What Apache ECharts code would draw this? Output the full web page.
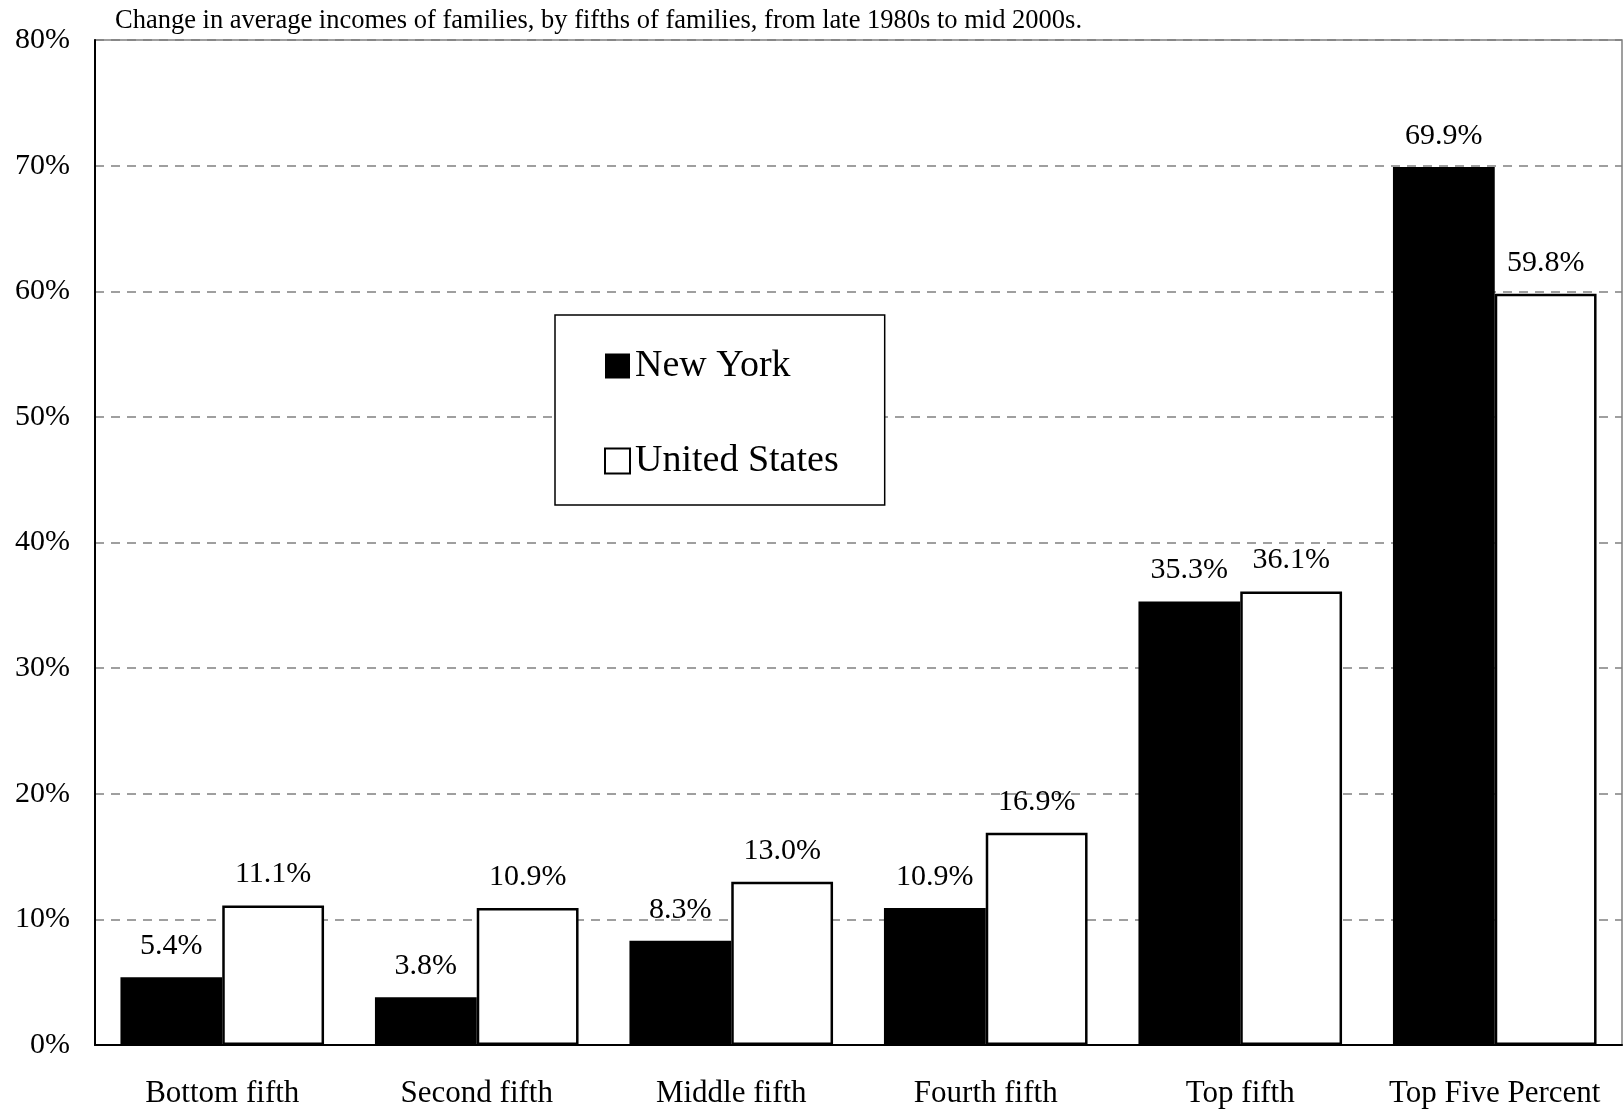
<!DOCTYPE html>
<html>
<head>
<meta charset="utf-8">
<script src="https://cdn.jsdelivr.net/npm/echarts@6/dist/echarts.min.js"></script>
<style>
html,body{margin:0;padding:0;background:#fff;}
#chart{width:1623px;height:1111px;}
</style>
</head>
<body>
<div id="chart"></div>
<script>
const categories = ['Bottom fifth', 'Second fifth', 'Middle fifth', 'Fourth fifth', 'Top fifth', 'Top Five Percent'];
const newYork = [5.4, 3.8, 8.3, 10.9, 35.3, 69.9];
const unitedStates = [11.1, 10.9, 13.0, 16.9, 36.1, 59.8];
const seriesNames = ['New York', 'United States'];
const titleText = 'Change in average incomes of families, by fifths of families, from late 1980s to mid 2000s.';

const FONT = 'Liberation Serif';
const chart = echarts.init(document.getElementById('chart'));
const labelCfg = {
  show: true,
  position: 'top',
  distance: 16,
  formatter: p => p.value.toFixed(1) + '%',
  fontFamily: FONT,
  fontSize: 30,
  color: '#000'
};
chart.setOption({
  animation: false,
  backgroundColor: '#fff',
  title: {
    text: titleText,
    left: 110,
    top: 3,
    textStyle: {fontFamily: FONT, fontSize: 26.5, fontWeight: 'normal', color: '#000'}
  },
  legend: {
    orient: 'vertical',
    left: 555,
    top: 315,
    padding: [31, 46, 24, 49],
    backgroundColor: '#fff',
    borderColor: '#000',
    borderWidth: 1.5,
    itemWidth: 25,
    itemHeight: 25,
    itemGap: 55,
    icon: 'rect',
    textStyle: {fontFamily: FONT, fontSize: 38, color: '#000', lineHeight: 40, padding: [0, 0, 0, 0]},
    data: seriesNames
  },
  grid: {
    left: 95, right: 1, top: 40, bottom: 66,
    show: true, borderColor: '#808080', borderWidth: 1.5,
    containLabel: false
  },
  xAxis: {
    type: 'category',
    data: categories,
    axisLine: {lineStyle: {color: '#000', width: 2}},
    axisTick: {show: false},
    axisLabel: {interval: 0, fontFamily: FONT, fontSize: 31, color: '#000', margin: 33}
  },
  yAxis: {
    type: 'value',
    min: 0, max: 80, interval: 10,
    axisLine: {show: true, lineStyle: {color: '#000', width: 2}},
    axisTick: {show: false},
    axisLabel: {fontFamily: FONT, fontSize: 30, color: '#000', margin: 25, formatter: '{value}%'},
    splitLine: {show: true, lineStyle: {color: '#808080', width: 1.5, type: [9, 7]}}
  },
  series: [
    {
      name: seriesNames[0], type: 'bar', data: newYork,
      barGap: '0%', barCategoryGap: '20%',
      itemStyle: {color: '#000'},
      label: labelCfg
    },
    {
      name: seriesNames[1], type: 'bar', data: unitedStates,
      barGap: '0%', barCategoryGap: '20%',
      itemStyle: {color: '#fff', borderColor: '#000', borderWidth: 2.5},
      label: labelCfg
    }
  ]
});
</script>
</body>
</html>
